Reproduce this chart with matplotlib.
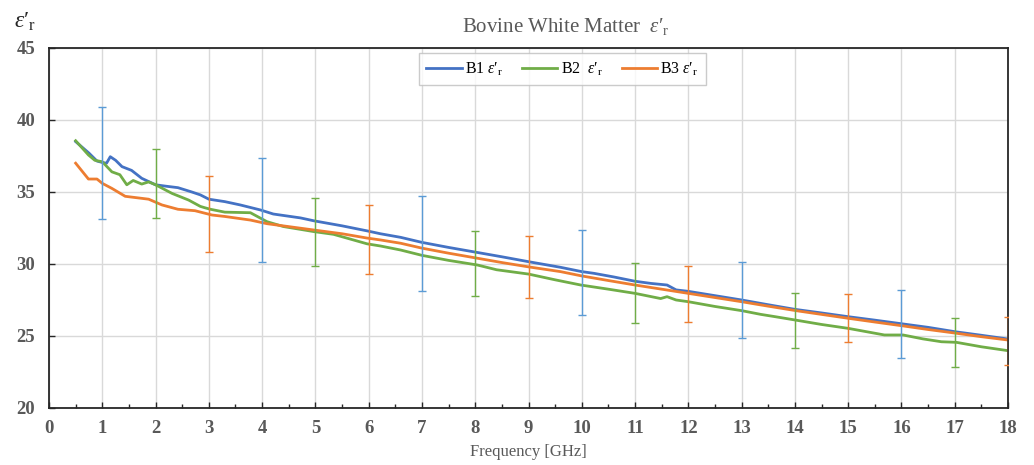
import matplotlib
matplotlib.use('Agg')
import matplotlib.pyplot as plt
from matplotlib.ticker import MultipleLocator

# B1 (blue)
f_b1 = [0.5, 0.75, 0.9, 1.0, 1.08, 1.15, 1.25, 1.37, 1.55, 1.74, 2.0, 2.2, 2.42,
        2.68, 2.84, 3.0, 3.3, 3.59, 3.97, 4.21, 4.72, 4.97, 5.5, 5.97, 6.22, 6.6,
        7.0, 7.5, 8.04, 8.5, 9.0, 9.6, 10.0, 10.23, 10.6, 11.0, 11.3, 11.6, 11.77,
        12.0, 12.5, 13.0, 13.5, 14.0, 14.5, 15.0, 15.5, 16.0, 16.5, 17.0, 17.5, 18.0]
eps_b1 = [38.5, 37.7, 37.15, 37.05, 37.0, 37.45, 37.2, 36.76, 36.5, 35.95, 35.5, 35.4, 35.3,
          35.0, 34.8, 34.5, 34.33, 34.1, 33.75, 33.47, 33.2, 33.0, 32.65, 32.3, 32.1, 31.85,
          31.5, 31.15, 30.8, 30.5, 30.16, 29.77, 29.47, 29.35, 29.1, 28.8, 28.65, 28.54, 28.2,
          28.1, 27.8, 27.5, 27.17, 26.85, 26.6, 26.34, 26.1, 25.85, 25.6, 25.3, 25.05, 24.79]

# B2 (green)
f_b2 = [0.5, 0.74, 0.86, 1.0, 1.18, 1.33, 1.46, 1.58, 1.74, 1.87, 2.0, 2.31, 2.62,
        2.84, 2.93, 3.03, 3.3, 3.78, 4.09, 4.4, 4.97, 5.34, 5.97, 6.22, 6.6, 7.0,
        7.5, 8.04, 8.4, 9.0, 9.5, 9.98, 10.5, 11.0, 11.48, 11.6, 11.77, 12.0, 12.5,
        13.0, 13.36, 13.63, 14.02, 14.5, 15.0, 15.68, 16.03, 16.4, 16.75, 17.03, 17.5, 18.0]
eps_b2 = [38.56, 37.57, 37.2, 37.1, 36.4, 36.2, 35.5, 35.8, 35.55, 35.7, 35.5, 34.9, 34.44,
          34.0, 33.9, 33.8, 33.6, 33.56, 32.94, 32.6, 32.25, 32.06, 31.4, 31.25, 30.97, 30.6,
          30.25, 29.93, 29.6, 29.3, 28.9, 28.54, 28.25, 27.96, 27.6, 27.73, 27.5, 27.38, 27.05,
          26.76, 26.5, 26.34, 26.1, 25.8, 25.53, 25.07, 25.07, 24.8, 24.6, 24.56, 24.25, 23.98]

# B3 (orange)
f_b3 = [0.5, 0.74, 0.9, 1.0, 1.18, 1.43, 1.65, 1.87, 2.12, 2.42, 2.74, 3.06, 3.3,
        3.78, 4.09, 4.97, 5.5, 5.97, 6.22, 6.6, 7.0, 7.5, 8.04, 8.5, 9.0, 9.6,
        10.0, 10.5, 11.0, 11.5, 12.0, 12.5, 13.0, 13.5, 14.02, 14.5, 15.0, 15.5, 16.03,
        16.5, 17.03, 17.5, 18.0]
eps_b3 = [37.0, 35.9, 35.9, 35.6, 35.25, 34.7, 34.6, 34.5, 34.1, 33.8, 33.7, 33.4, 33.3,
          33.05, 32.8, 32.36, 32.1, 31.8, 31.67, 31.44, 31.1, 30.75, 30.4, 30.1, 29.8, 29.47,
          29.17, 28.85, 28.54, 28.25, 27.96, 27.67, 27.38, 27.07, 26.76, 26.5, 26.23, 25.97, 25.7,
          25.45, 25.19, 24.95, 24.72]

# error bars: frequency, centre, half-width (colour cycles B1, B2, B3)
err_f = list(range(1, 19))
err_c = [36.99, 35.58, 33.48, 33.73, 32.21, 31.69, 31.44, 30.03, 29.79,
         29.41, 27.97, 27.93, 27.5, 26.06, 26.23, 25.85, 24.53, 24.67]
err_e = [3.89, 2.39, 2.62, 3.61, 2.35, 2.41, 3.31, 2.24, 2.16,
         2.95, 2.09, 1.96, 2.62, 1.91, 1.67, 2.35, 1.7, 1.68]

plt.rcParams['font.family'] = 'Liberation Serif'
plt.rcParams['mathtext.fontset'] = 'custom'
plt.rcParams['mathtext.rm'] = 'Liberation Serif'
plt.rcParams['mathtext.it'] = 'Liberation Serif:italic'

gray = '#595959'
line_cols = ['#4472C4', '#70AD47', '#ED7D31']
bar_cols = ['#5B9BD5', '#70AD47', '#ED7D31']
eps = r"$\varepsilon{\prime}_{\mathrm{r}}$"

fig = plt.figure(figsize=(10.34, 4.65), dpi=100)
ax = fig.add_axes([0.0474, 0.1226, 0.9275, 0.7742])

ax.plot(f_b1, eps_b1, color=line_cols[0], lw=2.0, label='B1 ' + eps)
ax.plot(f_b2, eps_b2, color=line_cols[1], lw=2.0, label='B2  ' + eps)
ax.plot(f_b3, eps_b3, color=line_cols[2], lw=2.0, label='B3 ' + eps)

for i, (f, c, e) in enumerate(zip(err_f, err_c, err_e)):
    ax.errorbar(f, c, yerr=e, fmt='none', ecolor=bar_cols[i % 3],
                elinewidth=1.0, capsize=3, capthick=1.0, zorder=3)

ax.set_xlim(0, 18)
ax.set_ylim(20, 45)
ax.xaxis.set_major_locator(MultipleLocator(1))
ax.xaxis.set_minor_locator(MultipleLocator(0.5))
ax.yaxis.set_major_locator(MultipleLocator(5))
ax.grid(True, which='major', color='#D9D9D9', lw=1.0)
ax.set_axisbelow(True)

for s in ax.spines.values():
    s.set_color('#262626')
    s.set_linewidth(1.3)

ax.tick_params(which='both', direction='in', color='#262626', top=False, right=False)
ax.tick_params(which='major', length=4, width=1.0)
ax.tick_params(which='minor', length=3, width=1.0)
ax.tick_params(axis='x', pad=9)
ax.tick_params(axis='y', pad=10)
for lab in ax.get_xticklabels() + ax.get_yticklabels():
    lab.set_fontsize(13.5)
    lab.set_fontweight('bold')
    lab.set_color(gray)

ax.set_xlabel('Frequency [GHz]', fontsize=12, color=gray, labelpad=5)
fig.text(0.547, 0.942, 'Bovine White Matter  ' + eps, ha='center', va='center',
         fontsize=15, color=gray)
fig.text(0.024, 0.952, eps, ha='center', va='center', fontsize=17, color='#262626')

ax.legend(loc='upper center', bbox_to_anchor=(0.544, 0.886), bbox_transform=fig.transFigure,
          ncol=3, fontsize=11.5, frameon=True, fancybox=False, edgecolor='#BFBFBF',
          handlelength=2.2, handletextpad=0.2, columnspacing=1.2, borderpad=0.45,
          borderaxespad=0)

plt.savefig('out.png', dpi=100)
